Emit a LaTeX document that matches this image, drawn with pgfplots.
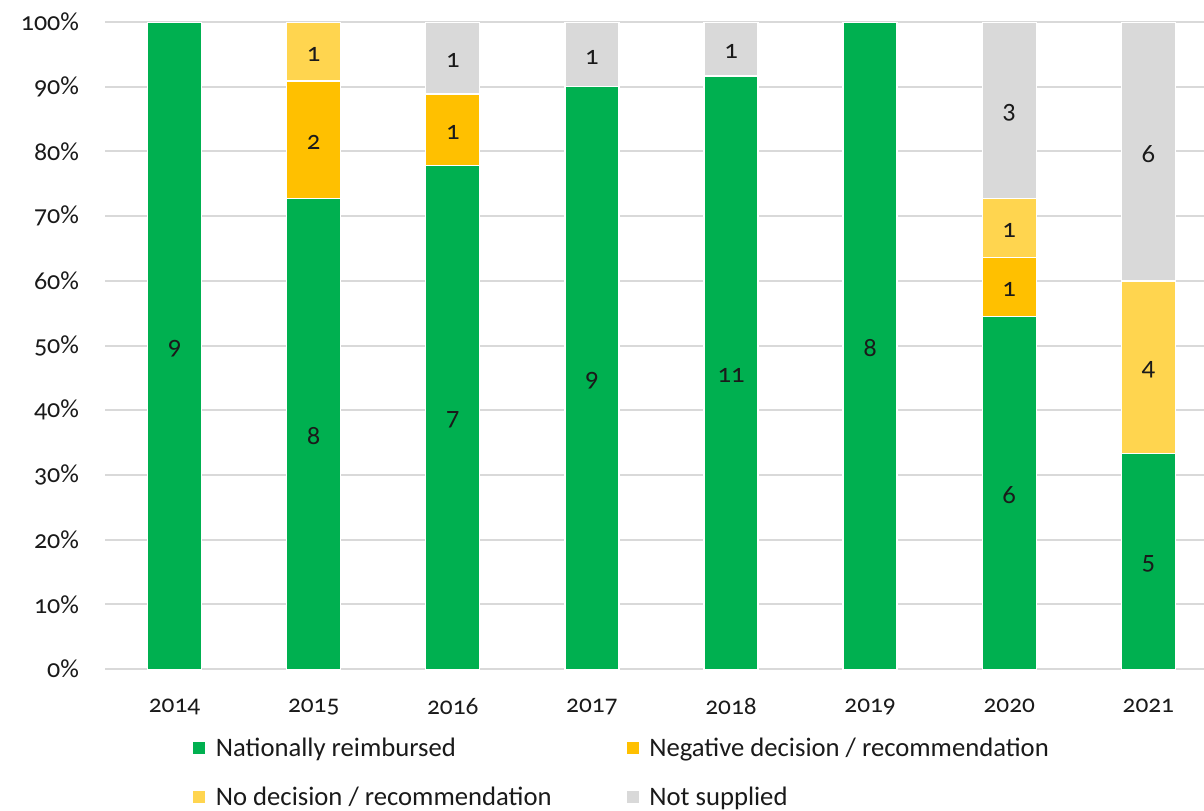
\documentclass[border=0pt]{standalone}
\usepackage{fontspec}
\setmainfont{Carlito}[Numbers=OldStyle]
\usepackage{pgfplots}
\pgfplotsset{compat=1.18}
\usepackage{pgfplotstable}
\definecolor{cgreen}{HTML}{00B050}
\definecolor{corange}{HTML}{FFC000}
\definecolor{cyellow}{HTML}{FFD54F}
\definecolor{cgrey}{HTML}{D9D9D9}
\definecolor{cgrid}{HTML}{D9D9D9}
\definecolor{ctext}{HTML}{1A1A1A}

\pgfplotstableread{
x pct n
0 100 9
1 72.727 8
2 77.778 7
3 90 9
4 91.667 11
5 100 8
6 54.545 6
7 33.333 5
}\tnr
\pgfplotstableread{
x pct n
0 0 0
1 18.182 2
2 11.111 1
3 0 0
4 0 0
5 0 0
6 9.091 1
7 0 0
}\tneg
\pgfplotstableread{
x pct n
0 0 0
1 9.091 1
2 0 0
3 0 0
4 0 0
5 0 0
6 9.091 1
7 26.667 4
}\tnod
\pgfplotstableread{
x pct n
0 0 0
1 0 0
2 11.111 1
3 10 1
4 8.333 1
5 0 0
6 27.273 3
7 40 6
}\tns

\begin{document}
\begin{tikzpicture}
\useasboundingbox (-78.75pt,-105.75pt) rectangle (824pt,501.75pt);
\begin{axis}[
  at={(0,0)}, anchor=south west,
  scale only axis, width=824pt, height=485.25pt,
  ybar stacked, bar width=40.5pt,
  xmin=-0.5, xmax=7.4, ymin=0, ymax=100,
  xtick=data, xticklabels={2014,2015,2016,2017,2018,2019,2020,2021},
  ytick={0,10,...,100},
  yticklabel={\pgfmathprintnumber{\tick}\%},
  /pgf/number format/assume math mode=true,
  axis line style={draw=none},
  major tick style={draw=none},
  ymajorgrids, grid style={cgrid, line width=1.5pt},
  ticklabel style={text=ctext},
  xticklabel style={font=\fontsize{19}{22}\selectfont, yshift=-18.5pt},
  yticklabel style={font=\fontsize{19.5}{22}\selectfont, xshift=-16pt},
  point meta=explicit,
  nodes near coords={\pgfmathfloatifflags{\pgfplotspointmeta}{0}{}{\pgfmathprintnumber{\pgfplotspointmeta}}},
  every node near coord/.append style={font=\fontsize{20}{22}\selectfont, text=ctext, yshift=-2pt},
  legend image code/.code={\fill[#1,draw=none] (0pt,-4.5pt) rectangle (9pt,4.5pt);},
  legend columns=2,
  legend cell align=left,
  legend style={at={(0.08,-0.101)}, anchor=north west, draw=none, fill=none, inner sep=0pt,
    font=\fontsize{20}{24}\selectfont, text=ctext, row sep=17.5pt, column sep=0pt},
]
\addplot[fill=cgreen, draw=white, line width=1pt] table[x=x, y=pct, meta=n] {\tnr};
\addlegendentry{\hspace{6pt}\makebox[306pt][l]{Nationally reimbursed}}
\addplot[fill=corange, draw=white, line width=1pt] table[x=x, y=pct, meta=n] {\tneg};
\addlegendentry{\hspace{6pt}Negative decision / recommendation}
\addplot[fill=cyellow, draw=white, line width=1pt] table[x=x, y=pct, meta=n] {\tnod};
\addlegendentry{\hspace{6pt}\makebox[306pt][l]{No decision / recommendation}}
\addplot[fill=cgrey, draw=white, line width=1pt] table[x=x, y=pct, meta=n] {\tns};
\addlegendentry{\hspace{6pt}Not supplied}
\end{axis}
\end{tikzpicture}
\end{document}
